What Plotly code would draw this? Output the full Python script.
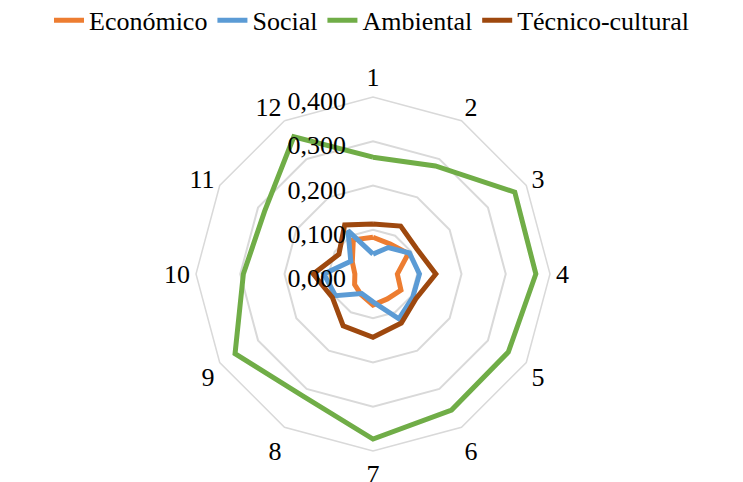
import plotly.graph_objects as go

# Categories around the radar (clockwise from the top)
categories = [str(i) for i in range(1, 13)]

# Index values per dimension
economico = [0.083, 0.078, 0.092, 0.055, 0.073, 0.065, 0.070, 0.054, 0.048, 0.041, 0.054, 0.089]
social = [0.045, 0.069, 0.095, 0.105, 0.104, 0.117, 0.063, 0.051, 0.098, 0.111, 0.058, 0.113]
ambiental = [0.264, 0.282, 0.370, 0.368, 0.353, 0.355, 0.373, 0.318, 0.360, 0.293, 0.283, 0.358]
tecnico = [0.113, 0.125, 0.114, 0.142, 0.112, 0.128, 0.143, 0.135, 0.106, 0.135, 0.089, 0.128]

series = [
    ("Económico", economico, "#ED7D31"),
    ("Social", social, "#5B9BD5"),
    ("Ambiental", ambiental, "#70AD47"),
    ("Técnico-cultural", tecnico, "#9E480E"),
]

radial_ticks = [0.0, 0.1, 0.2, 0.3, 0.4]

fig = go.Figure()
for name, vals, color in series:
    fig.add_trace(go.Scatterpolar(
        r=vals + vals[:1],
        theta=categories + categories[:1],
        mode="lines",
        name=name,
        line=dict(color=color, width=5),
    ))

font_family = "Liberation Serif"
font_size = 26
grid_color = "#D9D9D9"

W, H = 743, 482
# polar square: centre (373, 274), outer radius 177 px
pl, pr = 196, 550

fig.update_layout(
    width=W,
    height=H,
    paper_bgcolor="white",
    plot_bgcolor="white",
    separators=",.",
    font=dict(family=font_family, size=font_size, color="black"),
    margin=dict(l=0, r=0, t=97, b=31),
    showlegend=True,
    legend=dict(
        orientation="h",
        xref="paper", yref="container",
        x=0.5, xanchor="center",
        y=0.958, yanchor="middle",
        font=dict(family=font_family, size=font_size, color="black"),
        itemwidth=30,
        bgcolor="rgba(0,0,0,0)",
    ),
    polar=dict(
        domain=dict(x=[pl / W, pr / W], y=[0, 1]),
        bgcolor="white",
        gridshape="linear",
        angularaxis=dict(
            type="category",
            categoryorder="array",
            categoryarray=categories,
            direction="clockwise",
            rotation=90,
            showgrid=False,
            showline=True,
            linecolor=grid_color,
            linewidth=1.5,
            ticks="",
            tickfont=dict(family=font_family, size=font_size, color="black"),
        ),
        radialaxis=dict(
            range=[0, 0.4],
            tickvals=radial_ticks,
            tickformat=".3f",
            angle=90,
            side="counterclockwise",
            showline=False,
            showgrid=True,
            gridcolor=grid_color,
            gridwidth=1.5,
            ticks="outside",
            ticklen=3,
            tickcolor="rgba(0,0,0,0)",
            tickfont=dict(family=font_family, size=font_size, color="black"),
            layer="above traces",
        ),
    ),
)

fig.write_html("out.html")
